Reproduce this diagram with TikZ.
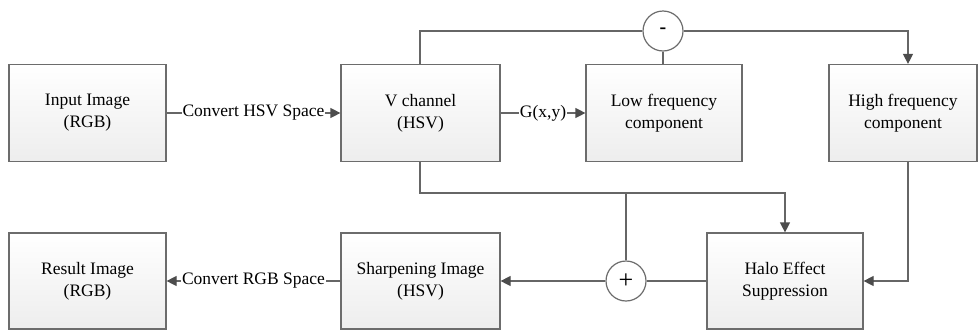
\documentclass[tikz,border=0pt]{standalone}
\usepackage{fontspec}
\setmainfont{Liberation Serif}
\usetikzlibrary{arrows.meta,calc}
\begin{document}
\begin{tikzpicture}[x=1pt,y=-1pt,
  box/.style={draw=gray!85!black, line width=1.2pt, top color=white, bottom color=gray!14,
    minimum width=157pt, minimum height=97pt, inner sep=0pt, align=center,
    font=\fontsize{17.5}{22}\selectfont},
  opc/.style={circle, draw=gray!85!black, line width=1.2pt, fill=white, minimum size=40pt, inner sep=0pt},
  conn/.style={draw=gray!80!black, line width=1.2pt},
  arr/.style={conn, -{Triangle[width=10pt,length=10pt,fill=black!70,color=black!70]}},
  lbl/.style={fill=white, inner sep=1pt, font=\fontsize{17.5}{20}\selectfont}]
\useasboundingbox (0,0) rectangle (979,330);
\node[box] (in) at (87.5,113) {Input Image\\(RGB)};
\node[box, minimum width=159pt] (v) at (420.5,113) {V channel\\(HSV)};
\node[box, minimum width=156pt] (low) at (664,113) {Low frequency\\component};
\node[box, minimum width=148pt] (high) at (903,113) {High frequency\\component};
\node[box, minimum height=96pt] (res) at (87.5,281) {Result Image\\(RGB)};
\node[box, minimum width=159pt, minimum height=96pt] (sharp) at (420.5,281) {Sharpening Image\\(HSV)};
\node[box, minimum width=156pt, minimum height=96pt] (halo) at (785,281) {Halo Effect\\Suppression};
\node[opc, font=\bfseries\fontsize{20}{20}\selectfont] (minus) at (663,31) {-};
\node[opc, font=\fontsize{26}{26}\selectfont] (plus) at (626,281) {+};
\coordinate (vtop) at (420,31);
\coordinate (htop) at (908,31);
\coordinate (vbot) at (420,193);
\coordinate (br) at (626,193);
\coordinate (hb) at (785,193);
\coordinate (hbot) at (908,281);
% top row
\draw[arr] (in.east) -- node[lbl] {Convert HSV Space} (v.west);
\draw[arr] (v.east) -- node[lbl] {G(x,y)} (low.west);
\draw[conn] (v.north -| vtop) -- (vtop) -- (minus.west);
\draw[arr] (minus.east) -- (htop) -- (high.north -| htop);
\draw[conn] (low.north -| minus) -- (minus.south);
% down links
\draw[arr] (v.south -| vbot) -- (vbot) -- (hb) -- (halo.north);
\draw[conn] (br) -- (plus.north);
\draw[arr] (high.south -| hbot) -- (hbot) -- (halo.east);
% bottom row
\draw[conn] (halo.west) -- (plus.east);
\draw[arr] (plus.west) -- (sharp.east);
\draw[arr] (sharp.west) -- node[lbl] {Convert RGB Space} (res.east);
\end{tikzpicture}
\end{document}
